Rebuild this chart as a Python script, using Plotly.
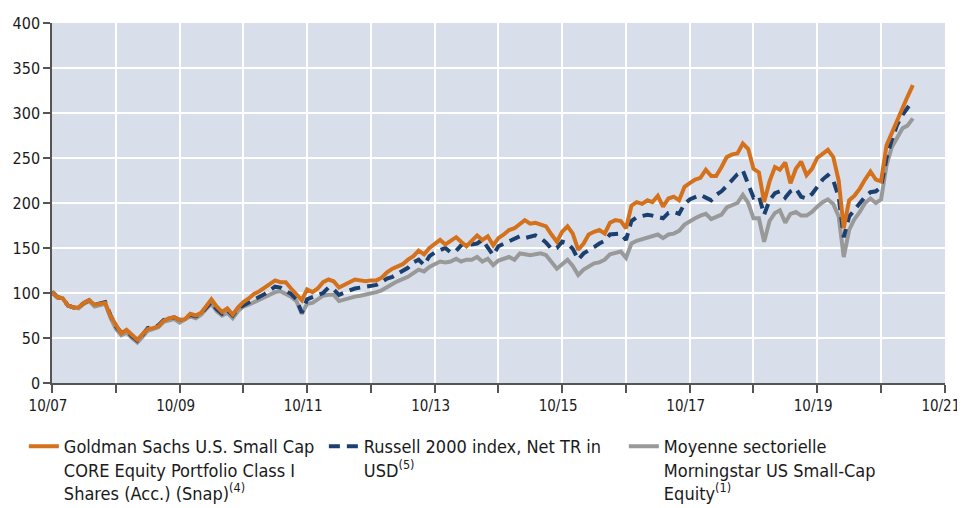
import pandas as pd
import plotly.graph_objects as go

# Monthly dates from 10/2007 to 04/2021
dates = pd.date_range("2007-10-01", periods=163, freq="MS")

fund = [
    101, 95, 94, 86, 84, 84, 89, 92, 87, 88, 89, 74,
    64, 55, 59, 53, 48, 54, 60, 61, 63, 69, 72, 73,
    70, 71, 77, 75, 78, 85, 93, 85, 79, 83, 76, 84,
    90, 94, 99, 102, 106, 109, 114, 112, 112, 105, 98, 92,
    104, 101, 105, 112, 115, 113, 106, 109, 111, 115, 114, 113,
    114, 114, 117, 123, 127, 129, 132, 137, 141, 147, 143, 150,
    154, 159, 154, 158, 162, 157, 152, 158, 164, 159, 163, 153,
    161, 165, 170, 172, 177, 181, 177, 178, 176, 174, 165, 157,
    168, 174, 166, 148, 155, 165, 168, 170, 166, 178, 181, 180,
    172, 197, 201, 199, 203, 201, 208, 196, 205, 207, 203, 218,
    222, 226, 228, 237, 230, 230, 240, 251, 254, 255, 266, 260,
    238, 234, 201, 224, 240, 237, 245, 222, 238, 246, 231, 238,
    250, 255, 259, 251, 225, 172, 203, 208, 216, 226, 235, 226,
    224, 264, 278, 292, 305, 318, 331,
]

russell = [
    101, 95, 94, 86, 84, 84, 89, 92, 87, 88, 90, 75,
    63, 56, 58, 52, 47, 53, 61, 62, 64, 70, 72, 73,
    70, 71, 76, 74, 77, 84, 90, 82, 77, 81, 75, 83,
    86, 89, 92, 95, 99, 103, 107, 106, 103, 99, 93, 78,
    93, 95, 97, 100, 106, 104, 98, 101, 103, 105, 106, 106,
    107, 109, 112, 116, 118, 121, 124, 128, 134, 137, 131, 141,
    145, 148, 150, 145, 147, 153, 156, 154, 155, 159, 150, 142,
    152, 155, 157, 161, 163, 161, 162, 164, 161, 156, 149, 150,
    157, 155, 149, 137, 144, 148, 151, 155, 158, 165, 166, 166,
    159, 180, 184, 186, 187, 186, 185, 183, 189, 190, 188, 199,
    204, 207, 209, 206, 203, 209, 213, 219, 225, 232, 236, 222,
    206, 208, 187, 203, 211, 213, 206, 213, 216, 207, 205, 210,
    218, 226, 231, 225, 207, 162, 185, 192, 200, 207, 212, 213,
    218, 250, 270, 287, 298, 305, 314,
]

morningstar = [
    102, 96, 94, 86, 84, 83, 88, 91, 85, 87, 88, 72,
    60, 53, 56, 50, 45, 51, 58, 60, 62, 68, 70, 71,
    67, 70, 74, 72, 76, 82, 88, 80, 75, 78, 72, 80,
    85, 87, 90, 93, 95, 98, 101, 102, 99, 96, 91, 77,
    88, 89, 93, 97, 98, 98, 91, 93, 95, 96, 97, 98,
    99, 101, 103, 106, 110, 113, 115, 118, 122, 126, 124, 129,
    132, 135, 134, 135, 138, 135, 137, 137, 140, 135, 138, 131,
    136, 138, 140, 137, 144, 143, 142, 143, 144, 142, 134, 127,
    132, 137, 130, 120, 126, 129, 133, 134, 137, 143, 145, 146,
    139, 155, 158, 160, 161, 163, 165, 161, 165, 166, 169, 176,
    180, 183, 186, 188, 182, 184, 187, 195, 197, 200, 209, 200,
    183, 183, 157, 180, 189, 192, 178, 188, 190, 186, 186, 190,
    196, 201, 204, 199, 185, 140, 170, 182, 190, 200, 205, 200,
    204, 242, 262, 273, 283, 286, 294,
]

tick_years = list(range(2007, 2022))
tick_vals = [pd.Timestamp(f"{y}-10-01") for y in tick_years]
tick_text = [f"10/{str(y)[2:]}" if (y - 2007) % 2 == 0 else "" for y in tick_years]

names = [
    "Goldman Sachs U.S. Small Cap<br>CORE Equity Portfolio Class I<br>Shares (Acc.) (Snap)<sup>(4)</sup>",
    "Russell 2000 index, Net TR in<br>USD<sup>(5)</sup>",
    "Moyenne sectorielle<br>Morningstar US Small-Cap<br>Equity<sup>(1)</sup>",
]

FONT = "Liberation Sans Narrow, DejaVu Sans Condensed, Arial Narrow, sans-serif"

fig = go.Figure()
fig.add_trace(go.Scatter(x=dates, y=morningstar, mode="lines", name=names[2],
                         line=dict(color="#999999", width=4), legendrank=3))
fig.add_trace(go.Scatter(x=dates, y=russell, mode="lines", name=names[1],
                         line=dict(color="#1B3F6E", width=4, dash="11px,7px"), legendrank=2))
fig.add_trace(go.Scatter(x=dates, y=fund, mode="lines", name=names[0],
                         line=dict(color="#D4711C", width=4), legendrank=1))

fig.update_layout(
    width=965, height=515,
    margin=dict(l=44, r=28, t=15, b=140, autoexpand=False),
    paper_bgcolor="white",
    plot_bgcolor="#D9DFEA",
    font=dict(family=FONT, size=18, color="#1a1a1a"),
    showlegend=True,
    legend=dict(
        orientation="h", x=-0.0315, xanchor="left", y=-0.125, yanchor="top",
        entrywidth=255, entrywidthmode="pixels", valign="top",
        font=dict(family=FONT, size=18, color="#1a1a1a"),
        itemwidth=30, traceorder="normal", bgcolor="rgba(0,0,0,0)",
        tracegroupgap=0,
    ),
    xaxis=dict(
        range=[pd.Timestamp("2007-10-01"), pd.Timestamp("2021-10-02")],
        tickmode="array", tickvals=tick_vals, ticktext=tick_text,
        ticklabeloverflow="allow", automargin=False, ticklabelshift=-4,
        showgrid=True, gridcolor="white", gridwidth=1.5,
        showline=True, linecolor="#555555", linewidth=1.5,
        ticks="outside", ticklen=8, tickcolor="#555555", tickwidth=1.5,
        zeroline=False, tickfont=dict(size=15),
    ),
    yaxis=dict(
        range=[0, 400], tickmode="array", tickvals=list(range(0, 401, 50)),
        automargin=False,
        showgrid=True, gridcolor="white", gridwidth=1.5,
        showline=True, linecolor="#555555", linewidth=1.5,
        ticks="outside", ticklen=7, tickcolor="#555555", tickwidth=1.5,
        zeroline=False, tickfont=dict(size=16),
    ),
)

fig.write_html("out.html")
